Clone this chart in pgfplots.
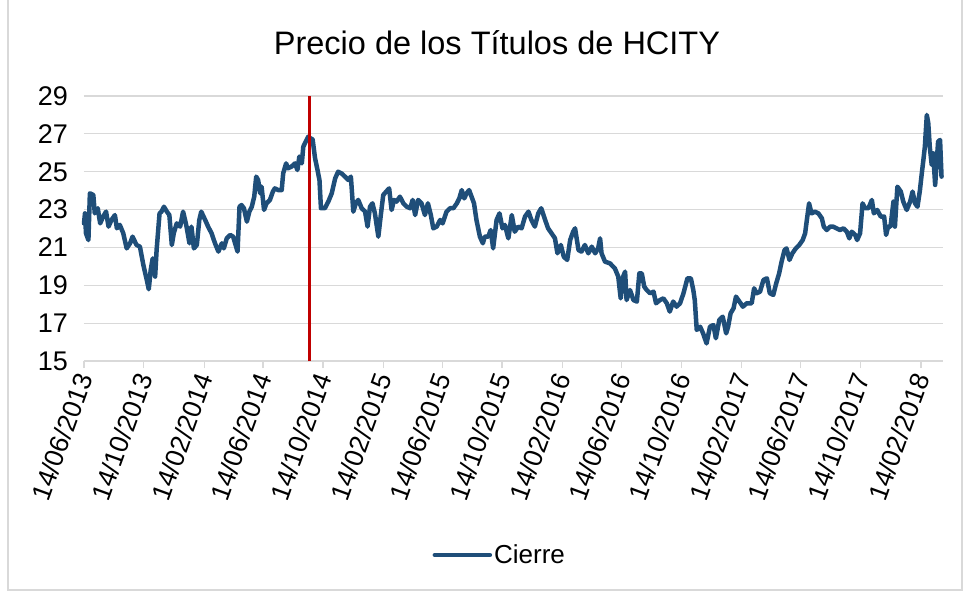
\documentclass[border=0pt]{standalone}
\usepackage{fontspec}
\setmainfont{Liberation Sans}
\usepackage{pgfplots}
\usepackage{pgfplotstable}
\pgfplotsset{compat=1.18}
\definecolor{serie}{RGB}{31,78,121}
\definecolor{rojo}{RGB}{192,0,0}
\definecolor{rejilla}{RGB}{217,217,217}
\pgfplotstableread{
dia precio
0 22.27
2 22.80
4 21.75
9 21.39
12 23.86
19 23.77
22 22.80
28 23.07
33 22.27
39 22.63
45 22.89
50 22.10
56 22.45
63 22.71
67 22.01
73 22.19
80 21.75
87 20.95
94 21.22
99 21.57
107 21.13
114 21.04
121 20.07
128 19.28
132 18.79
136 19.81
140 20.42
145 19.46
148 20.86
154 22.80
158 22.89
163 23.15
169 22.89
174 22.71
179 21.13
183 21.75
189 22.27
196 22.10
202 22.89
206 22.45
209 22.10
215 21.22
219 22.10
224 20.95
230 21.13
235 22.45
239 22.89
247 22.45
253 22.10
260 21.75
267 21.22
274 20.78
281 21.22
285 20.95
291 21.48
298 21.66
304 21.57
308 21.22
313 20.78
317 23.15
321 23.24
326 23.07
332 22.36
337 22.89
342 23.15
347 23.68
351 24.74
355 24.56
359 23.86
362 24.21
367 22.98
372 23.33
379 23.51
385 23.95
389 24.12
396 24.03
403 24.03
406 24.91
412 25.44
416 25.18
423 25.27
430 25.44
435 25.09
439 25.80
444 25.44
447 26.32
452 26.59
457 26.85
462 26.76
466 26.71
471 25.71
476 25.09
480 24.56
483 23.07
491 23.07
498 23.42
505 23.86
512 24.65
518 25.00
525 24.91
532 24.74
539 24.56
544 24.74
549 22.89
554 23.33
559 23.51
566 23.07
573 22.89
578 22.10
583 23.15
588 23.33
593 22.80
600 21.57
605 22.71
610 23.77
616 23.95
622 24.12
627 22.98
632 23.51
637 23.42
644 23.68
651 23.33
658 23.15
665 23.07
670 23.51
675 22.71
681 23.51
688 23.33
695 22.71
701 23.33
707 22.71
712 22.01
719 22.10
726 22.45
731 22.27
739 22.89
746 23.07
753 23.07
760 23.33
765 23.59
770 24.03
775 23.59
780 23.86
785 24.03
790 23.68
795 23.33
800 22.45
807 21.57
813 21.22
817 21.57
824 21.57
829 21.92
834 20.95
841 22.45
847 22.80
853 22.01
858 22.19
865 21.48
872 22.71
878 21.83
885 22.10
892 22.01
899 22.63
906 22.89
912 22.45
919 22.10
926 22.80
932 23.07
940 22.45
946 22.01
953 21.75
960 21.48
965 20.69
972 21.13
978 20.51
985 20.34
991 21.39
997 21.83
1001 22.01
1008 20.86
1014 20.78
1021 21.13
1028 20.69
1035 21.04
1042 20.69
1048 20.95
1052 21.48
1055 20.69
1062 20.25
1072 20.16
1082 19.90
1089 19.46
1094 18.31
1099 19.46
1103 19.72
1106 18.22
1113 18.75
1120 18.22
1127 18.14
1132 19.63
1137 19.63
1142 18.93
1147 18.75
1154 18.58
1161 18.66
1166 18.05
1174 18.22
1181 18.31
1188 18.05
1194 17.61
1201 18.14
1208 17.87
1215 18.05
1222 18.58
1230 19.37
1237 19.37
1242 18.75
1245 18.22
1249 16.64
1256 16.81
1262 16.46
1269 15.93
1276 16.81
1283 16.90
1288 16.20
1295 17.17
1302 17.34
1309 16.46
1313 16.81
1318 17.52
1324 17.78
1329 18.40
1336 18.14
1343 17.87
1351 18.05
1361 18.05
1366 18.84
1371 18.58
1378 18.66
1385 19.28
1392 19.37
1398 18.58
1405 18.49
1411 19.10
1417 19.63
1422 20.25
1428 20.86
1432 20.95
1438 20.34
1444 20.69
1451 20.95
1458 21.13
1465 21.39
1470 21.75
1473 22.36
1478 23.33
1483 22.80
1490 22.89
1497 22.80
1504 22.54
1508 22.10
1514 21.92
1521 22.10
1527 22.10
1534 22.01
1541 21.92
1548 22.01
1555 21.83
1560 21.48
1565 21.83
1572 21.66
1576 21.39
1582 21.75
1587 23.33
1592 23.07
1599 23.07
1606 23.51
1610 22.80
1617 22.98
1624 22.63
1631 22.63
1635 21.66
1639 22.10
1644 22.10
1650 23.42
1653 22.10
1658 24.21
1665 23.95
1670 23.42
1677 22.98
1684 23.42
1689 23.95
1694 23.33
1699 23.15
1704 24.03
1707 24.74
1711 25.62
1714 26.32
1718 28.00
1721 27.56
1724 26.32
1728 25.36
1731 25.97
1735 24.30
1738 25.44
1741 26.59
1745 26.68
1748 24.74
}\cierre
\begin{document}
\begin{tikzpicture}[x=1pt,y=1pt]
\useasboundingbox (-84,-231) rectangle (888,361);
\draw[color=rejilla, line width=1.2pt] (-76,362) -- (-76,-229) -- (878,-229) -- (878,362);
\node[font=\fontsize{32.5}{37}\selectfont] at (413,318) {Precio de los Títulos de HCITY};
\begin{axis}[
  at={(0,0)}, anchor=south west,
  scale only axis, width=859pt, height=265pt,
  xmin=0, xmax=1751, ymin=15, ymax=29,
  ytick={15,17,...,29},
  xtick={0,122,245,365,487,610,730,852,975,1096,1218,1341,1461,1583,1706},
  xticklabels={14/06/2013,14/10/2013,14/02/2014,14/06/2014,14/10/2014,14/02/2015,14/06/2015,14/10/2015,14/02/2016,14/06/2016,14/10/2016,14/02/2017,14/06/2017,14/10/2017,14/02/2018},
  separate axis lines,
  axis x line*=bottom, axis y line*=left,
  y axis line style={draw=none},
  x axis line style={draw=rejilla, line width=1.2pt, -},
  ymajorgrids, grid style={draw=rejilla, line width=1.2pt},
  ytick style={draw=none},
  xtick style={draw=rejilla, line width=1.2pt},
  xtick align=outside, major tick length=7pt,
  /pgf/number format/assume math mode=true,
  yticklabel style={anchor=east, inner sep=0pt, xshift=-16pt, font=\fontsize{27}{31}\selectfont},
  xticklabel style={rotate=70, anchor=east, inner sep=0pt, xshift=-6pt, yshift=-3pt, font=\fontsize{26.5}{30}\selectfont},
  legend style={at={(0.484,-0.732)}, anchor=center, draw=none, fill=none,
    font=\fontsize{26}{30}\selectfont, inner sep=0pt},
  legend image code/.code={\draw[#1] (0pt,0pt) -- (55pt,0pt);},
  clip=false,
]
\addplot[serie, line width=4.5pt, line join=round, line cap=round] table[x=dia, y=precio] {\cierre};
\addlegendentry{Cierre}
\addplot[rojo, line width=3pt, forget plot] coordinates {(459,15) (459,29)};
\end{axis}
\end{tikzpicture}
\end{document}
